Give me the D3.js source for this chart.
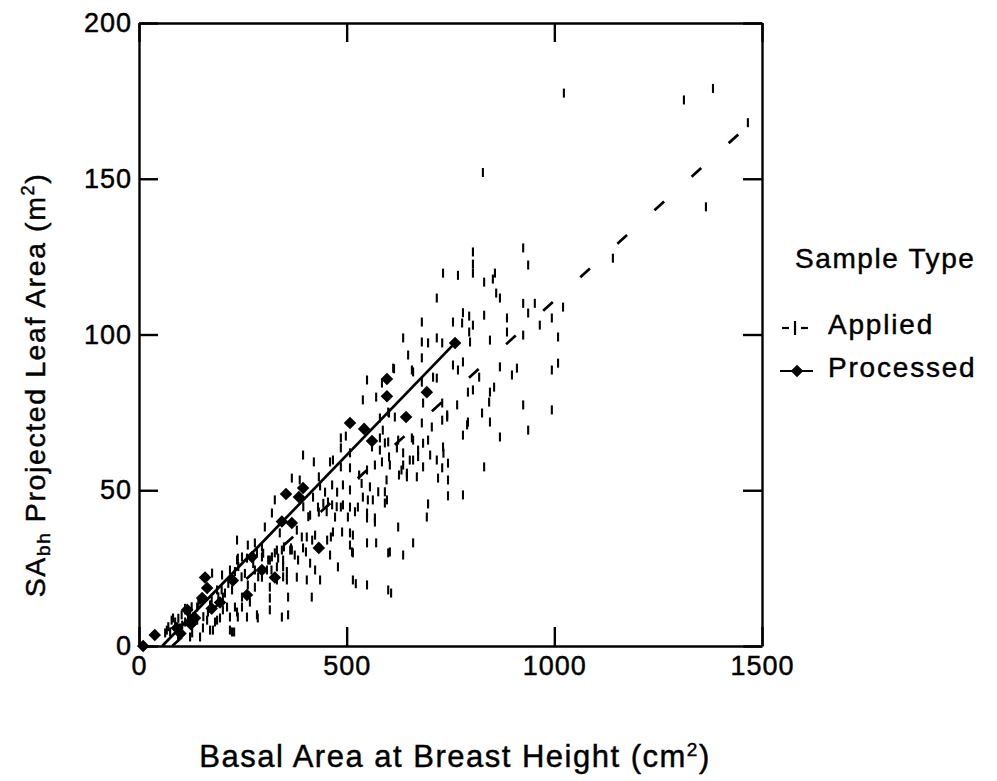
<!DOCTYPE html>
<html>
<head>
<meta charset="utf-8">
<script src="https://cdn.jsdelivr.net/npm/d3@7"></script>
<style>
html, body { margin: 0; padding: 0; background: #fff; overflow: hidden; }
svg { display: block; }
text { font-family: "Liberation Sans", Arial, sans-serif; fill: #000; stroke: #000; stroke-width: 0.45px; }
</style>
</head>
<body>
<svg id="chart"></svg>
<script>
// ticks
const xTicks = [0, 500, 1000, 1500];
const yTicks = [0, 50, 100, 150, 200];

// Applied samples [basal area cm2, leaf area m2]
const applied = [
  [1023,177.5],[1312,175.3],[1382,179],[1466,168],[1365,141],[1141,124.5],[828,152],
  [804,126.5],[804,122.6],[804,119.7],[732,119.7],[768,119],[831,116.8],[852,117.8],[857,119.7],
  [925,127.8],[937,122.3],[860,113.3],[869,111.7],[925,110],[953,110],[1021,108.8],[780,107],
  [795,105.9],[804,103],[831,106.2],[886,105.3],[937,106.9],[994,105.3],[965,103],[756,104],
  [778,103.7],[795,100.8],[730,97.3],[797,97.6],[845,98.2],[886,100.8],[925,99.8],[1009,99.2],
  [756,90.2],[768,88.6],[780,91.2],[819,86.3],[869,89.6],[898,87],[910,89.2],[994,88.6],
  [1009,90.8],[792,81.5],[804,82.2],[845,81.5],[855,83.1],[730,78],[766,77.4],[843,78.3],
  [925,77.4],[994,75.8],[742,74.2],[826,74.8],[792,71.9],[845,71.9],
  [717,111.7],[681,104],[636,98.9],[681,97.6],[696,97.3],[717,98.9],[648,93.4],[681,92.5],
  [612,89.2],[657,88.6],[681,84.7],[708,86.3],[717,86],[585,84.4],[600,75.1],[616,73.5],
  [657,66.8],[681,71.6],[696,66.1],[705,70.3],[730,72.5],[742,73.5],[790,71],[592,65.2],
  [602,60.7],[621,63.6],[636,58.1],[645,54.3],[660,59.7],[669,54.3],[684,57.5],[720,53.9],
  [730,57.2],[744,58.7],[744,53.3],[831,57.5],[744,48.2],[780,48.5],[592,45.9],[696,45.6],
  [624,38.2],[937,69.3],[869,67.1],
  [614,89],[549,85.4],[660,88],[539,79],[571,79.9],[684,78],[602,74.8],[580,73.2],[587,69.3],
  [486,66.8],[498,67.4],[580,66.8],[600,65.5],[624,66.1],[660,66.1],[780,67.7],[486,63.6],
  [508,62],[561,63.9],[580,62.9],[636,62],[672,62.9],[395,61.3],[421,59.1],[460,59.1],
  [467,59.7],[486,57.5],[508,57.2],[530,54.9],[549,56.5],[568,58.1],[585,59.1],[604,58.1],
  [626,54.9],[645,55.5],[368,53.9],[387,53.3],[433,54.3],[436,51.4],[448,49.4],[465,51.7],
  [477,49.4],[491,51.7],[508,50.1],[539,47.8],[551,46.9],[563,46.9],[327,46.9],[419,47.8],
  [431,44.6],[455,46.2],[486,44.6],[508,44.6],[320,42.7],[412,42],[433,43],[472,41.4],
  [503,41.4],[527,44.6],[549,42.7],[568,39.8],[339,36.3],[380,37.2],[404,35],[424,35.6],
  [462,35],[489,36.6],[508,32.4],[515,35.6],[549,33.1],[571,33.1],[660,33.1],[349,31.8],
  [366,31.5],[395,31.5],[417,34],[460,29.2],[515,29.9],[600,29.9],[636,29.2],[320,28.6],
  [332,30.8],[375,29.2],[732,63.9],[693,41.4],
  [395.6,44.7],[407.6,41.5],[443.8,45.8],[451.9,43.1],[476,44.7],[520,43.1],[536,52.2],
  [556,51.1],[576,49.5],[596,53.3],[592,49.5],[632,56.5],[652,59.7],[672,60.8],[684,65.1],
  [701,61.3],[717,59.7],[733,61.9],
  [236,34],[303,38.2],[279,33.1],[238,28.2],[260,28.2],[284,30.2],[296,28.6],[315,27.6],
  [332,25.4],[347,27.6],[364,30.8],[356,21.2],[380,22.1],[383,27.6],[392,35],[402,30.2],
  [412,26.6],[404,21.2],[416,15.7],[424,24.4],[436,21.2],[453,34],[465,45.3],[467,36.6],
  [508,36.3],[491,45.3],[479,25.4],[513,30.2],[515,21.2],[568,41.1],[549,41.1],[597,46.9],
  [604,30.2],[600,18],[549,19.6],[284,10],[359,10],[315,15.4],[224,4.5],[229,4.5],
  [176,23.4],[188,18],[202,15.7],[212,12.5],[219,9.3],[236,10.9],[248,12.5],[260,9.3],
  [183,7.7],[171,5.1],[154,5.8],[140,8.3],[123,10],[111,7.7],[99,5.8],[82,9],[75,4.5],
  [63,4.2],[128,4.2],[147,2.9],
  [200,22.8],[236,27.6],[248,28.6],[262,32.4],[296,31.8],[327,29.9],[344,30.8],[359,15.7],
  [344,9.3],[315,11.6],[286,9],[267,14.1],[248,15.7],[238,9.3],[219,5.1],[202,11.6],
  [188,8.3],[178,5.1],[147,14.8],[140,12.5],[118,8.3],[111,11.6],[104,6.7],[87,7.7],
  [67,5.1],[94,2.9],[123,2.9],[164,8.3],[166,10.9],[195,9],[207,17],[224,18],[231,12.5],
  [262,19.6],[279,18.9],[296,22.1],[308,24.4],[315,18.9],[332,21.2],[347,25.4],[522,20],[607,17],
  [70.5,6.2],[78.6,8.3],[94.7,8.9],[102.7,10],[110.8,12.1],[118.8,11],[126.8,12.6],[130.8,9.4],
  [142.9,13.7],[154.9,9.4],[171,13.2],[175,15.3],[191,15.8],[199,18],[215,20.1],[219,24.4],
  [231,23.9],[239,25.5],[247,22.2],[255,23.3],[275,26.5],[279,24.4],[287,22.2],[299,29.8],
  [311,27.6],[319,24.4],[335,28.2],[347,22.2],[356,23.9],[368,30.8]
];

// Processed samples
const processed = [
  [10,0],[38,3.5],[91,5.8],[100,4],[116,11.6],[125,7],[135,9],[152,15.4],[159,22],[164,18.6],
  [175,12],[195,14],[226,21],[260,16.4],[272,28.6],[296,24.4],[327,22],[344,40],[354,48.8],
  [368,39.5],[385,47.8],[395,50.7],[433,31.5],[508,71.6],[542,69.7],[561,65.8],[597,85.7],
  [597,80.2],[643,73.5],[693,81.5],[761,97.3]
];

// fitted lines, end points
const appliedFit = [[80,0],[1480,168.7]];
const processedFit = [[56,0],[761,97.3]];

const legendLabels = ["Applied", "Processed"];

const width = 997, height = 781;
const padding = { left: 139, right: 235, top: 23, bottom: 135 };

const svg = d3.select("#chart").attr("width", width).attr("height", height);
const innerWidth = width - padding.left - padding.right;
const innerHeight = height - padding.top - padding.bottom;
const plot = svg.append("g").attr("transform", `translate(${padding.left},${padding.top})`);

const xScale = d3.scaleLinear().domain([0, 1500]).range([0, innerWidth]);
const yScale = d3.scaleLinear().domain([0, 200]).range([innerHeight, 0]);

const axesParts = {
  x: d3.axisBottom(xScale).tickValues(xTicks).tickFormat(d3.format("d"))
    .tickSizeInner(-19).tickSizeOuter(0).tickPadding(10),
  y: d3.axisLeft(yScale).tickValues(yTicks).tickFormat(d3.format("d"))
    .tickSizeInner(-19).tickSizeOuter(0).tickPadding(7),
  xSub: d3.axisTop(xScale).tickValues(xTicks).tickSizeInner(-19).tickSizeOuter(0).tickFormat(""),
  ySub: d3.axisRight(yScale).tickValues(yTicks).tickSizeInner(-19).tickSizeOuter(0).tickFormat("")
};

// marks first, frame on top
plot.append("g").attr("class", "applied")
  .selectAll("line")
  .data(applied)
  .join("line")
  .attr("x1", d => xScale(d[0]))
  .attr("x2", d => xScale(d[0]))
  .attr("y1", d => yScale(d[1]) - 4.5)
  .attr("y2", d => yScale(d[1]) + 4.5)
  .attr("stroke", "#000")
  .attr("stroke-width", 2.1);

const line = d3.line().x(d => xScale(d[0])).y(d => yScale(d[1]));
plot.append("path")
  .datum(appliedFit)
  .attr("d", line)
  .attr("fill", "none")
  .attr("stroke", "#000")
  .attr("stroke-width", 2.7)
  .attr("stroke-dasharray", "13,37");
plot.append("path")
  .datum(processedFit)
  .attr("d", line)
  .attr("fill", "none")
  .attr("stroke", "#000")
  .attr("stroke-width", 2.7);

const diamond = d3.symbol().type(d3.symbolDiamond2).size(100);
plot.append("g").attr("class", "processed")
  .selectAll("path")
  .data(processed)
  .join("path")
  .attr("d", diamond)
  .attr("transform", d => `translate(${xScale(d[0])},${yScale(d[1])})`)
  .attr("fill", "#000");

plot.append("g").attr("class", "axis-x axis")
  .attr("transform", `translate(0,${innerHeight})`)
  .call(axesParts.x);
plot.append("g").attr("class", "axis-y axis")
  .call(axesParts.y);
plot.append("g").attr("class", "axis-x-sub axis")
  .call(axesParts.xSub);
plot.append("g").attr("class", "axis-y-sub axis")
  .attr("transform", `translate(${innerWidth},0)`)
  .call(axesParts.ySub);

svg.selectAll(".axis path, .axis line").attr("stroke", "#000").attr("stroke-width", 2.4);
svg.selectAll(".axis text")
  .style("font-size", "27px")
  .style("letter-spacing", "1px")
  .style("fill", "#000");

// x title
const xt = svg.append("text")
  .attr("x", 455).attr("y", 767)
  .attr("text-anchor", "middle")
  .style("font-size", "31px")
  .style("letter-spacing", "1.5px");
xt.append("tspan").text("Basal Area at Breast Height (cm");
xt.append("tspan").attr("dy", -11).style("font-size", "19px").text("2");
xt.append("tspan").attr("dy", 11).text(")");

// y title
const yt = svg.append("text")
  .attr("transform", "translate(45,385) rotate(-90)")
  .attr("text-anchor", "middle")
  .style("font-size", "28.5px")
  .style("letter-spacing", "1.6px");
yt.append("tspan").text("SA");
yt.append("tspan").attr("dy", 5).style("font-size", "19px").text("bh");
yt.append("tspan").attr("dy", -5).text(" Projected Leaf Area (m");
yt.append("tspan").attr("dy", -11).style("font-size", "18px").text("2");
yt.append("tspan").attr("dy", 11).text(")");

// legend
const legend = svg.append("g").attr("class", "legend");
legend.append("text").attr("x", 795).attr("y", 268)
  .style("font-size", "28px").style("letter-spacing", "1.6px")
  .text("Sample Type");
const legendY = [328, 371];
legend.selectAll(".legend-label")
  .data(legendLabels)
  .join("text")
  .attr("class", "legend-label")
  .attr("x", 828)
  .attr("y", (d, i) => legendY[i] + 6)
  .style("font-size", "28px")
  .style("letter-spacing", "1.8px")
  .text(d => d);

const lg = legend.append("g").attr("class", "legend-symbols");
// applied: -|-
lg.append("line").attr("x1", 782).attr("x2", 789).attr("y1", legendY[0]).attr("y2", legendY[0]);
lg.append("line").attr("x1", 801).attr("x2", 808).attr("y1", legendY[0]).attr("y2", legendY[0]);
lg.append("line").attr("x1", 795).attr("x2", 795).attr("y1", legendY[0] - 7).attr("y2", legendY[0] + 7);
// processed: line + diamond
lg.append("line").attr("x1", 780).attr("x2", 813).attr("y1", legendY[1]).attr("y2", legendY[1]);
lg.selectAll("line").attr("stroke", "#000").attr("stroke-width", 2.2);
lg.append("path").attr("d", diamond).attr("transform", `translate(797,${legendY[1]})`).attr("fill", "#000");
</script>
</body>
</html>
